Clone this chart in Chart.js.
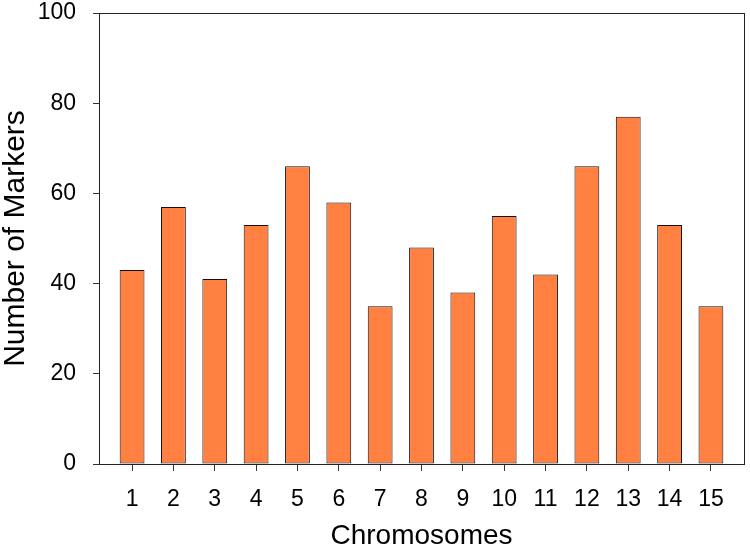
<!DOCTYPE html>
<html>
<head>
<meta charset="utf-8">
<script src="https://cdn.jsdelivr.net/npm/chart.js@4/dist/chart.umd.min.js"></script>
<style>
  html, body { margin: 0; padding: 0; background: #fff; }
  #wrap { width: 750px; height: 549px; }
</style>
</head>
<body>
<div id="wrap"><canvas id="chart" width="750" height="549"></canvas></div>
<script>
    "use strict";

    // chromosome numbers and marker counts
    var chromosomes = [1, 2, 3, 4, 5, 6, 7, 8, 9, 10, 11, 12, 13, 14, 15];
    var markerCounts = [43, 57, 41, 53, 66, 58, 35, 48, 38, 55, 42, 66, 77, 53, 35];
    var yTicks = [0, 20, 40, 60, 80, 100];

    var fontFamily = "Arial, 'Liberation Sans', sans-serif";

    // frame round the plot area (top and right sides)
    var frame = {
        id: 'frame',
        afterDraw: function (chart) {
            var a = chart.chartArea, ctx = chart.ctx;
            ctx.save();
            ctx.strokeStyle = '#222';
            ctx.lineWidth = 1;
            ctx.strokeRect(Math.round(a.left) + 0.5, Math.round(a.top) + 0.5,
                Math.round(a.right - a.left), Math.round(a.bottom - a.top));
            ctx.restore();
        }
    };

    new Chart(document.getElementById('chart'), {
        type: 'bar',
        data: {
            datasets: [{
                data: chromosomes.map(function (c, i) { return { x: c, y: markerCounts[i] }; }),
                backgroundColor: '#FF8040',
                borderColor: '#111',
                borderWidth: 1,
                borderSkipped: false,
                barPercentage: 0.6,
                categoryPercentage: 1
            }]
        },
        options: {
            responsive: false,
            animation: false,
            layout: { padding: { top: 13, right: 6, left: 0, bottom: 0 } },
            plugins: { legend: { display: false }, tooltip: { enabled: false } },
            scales: {
                x: {
                    type: 'linear',
                    min: 0.2,
                    max: 15.8,
                    offset: false,
                    afterBuildTicks: function (scale) {
                        scale.ticks = chromosomes.map(function (v) { return { value: v }; });
                    },
                    afterFit: function (scale) {
                        scale.height = 85;
                        scale.paddingLeft = 0;
                        scale.paddingRight = 0;
                    },
                    grid: { offset: false, drawOnChartArea: false, drawTicks: true, tickLength: 7, color: '#333' },
                    border: { display: true, color: '#222', width: 1 },
                    ticks: { color: '#000', padding: 15, maxRotation: 0, autoSkip: false,
                        font: { family: fontFamily, size: 23 } },
                    title: { display: true, text: 'Chromosomes', color: '#000',
                        padding: { top: 0, bottom: 0 },
                        font: { family: fontFamily, size: 28, lineHeight: 0.9 } }
                },
                y: {
                    min: 0,
                    max: 100,
                    afterBuildTicks: function (scale) {
                        scale.ticks = yTicks.map(function (v) { return { value: v }; });
                    },
                    afterFit: function (scale) {
                        // keep the plot top at the layout padding, not label padding
                        scale.width = 99;
                        scale.paddingTop = 0;
                        scale.paddingBottom = 0;
                    },
                    grid: { drawOnChartArea: false, drawTicks: true, tickLength: 6, color: '#333' },
                    border: { display: true, color: '#222', width: 1 },
                    ticks: { color: '#000', padding: 17,
                        font: { family: fontFamily, size: 23 } },
                    title: { display: true, text: 'Number of Markers', color: '#000',
                        padding: 0,
                        font: { family: fontFamily, size: 30, lineHeight: 1.05 } }
                }
            }
        },
        plugins: [frame]
    });
</script>
</body>
</html>
